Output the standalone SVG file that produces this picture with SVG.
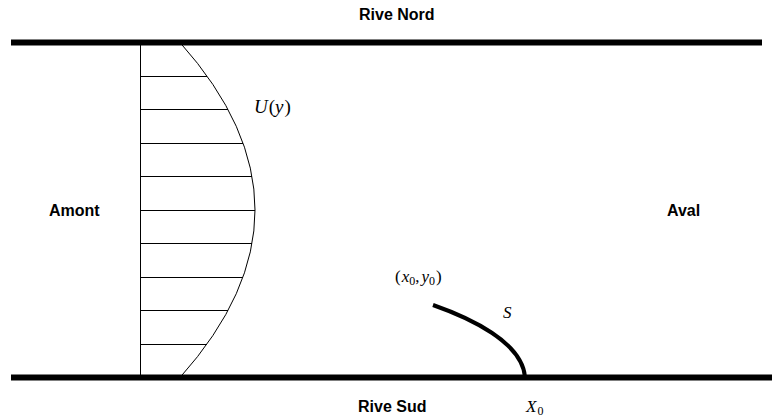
<svg xmlns="http://www.w3.org/2000/svg" width="773" height="417" viewBox="0 0 773 417">
<style>
.bank{stroke:#000;stroke-width:6;fill:none}
.thin{stroke:#000;stroke-width:1;fill:none}
.lbl{font-family:"Liberation Sans",Arial,sans-serif;font-weight:bold;font-size:16px;fill:#000}
.math{font-family:"Liberation Serif","Times New Roman",serif;fill:#000}
.it{font-style:italic}
</style>
<rect width="773" height="417" fill="#fff"/>
<g id="rive-nord">
<line class="bank" x1="11" y1="42.5" x2="762" y2="42.5"/>
<text class="lbl" x="359" y="20">Rive Nord</text>
</g>
<g id="rive-sud">
<line class="bank" x1="11" y1="377.5" x2="772" y2="377.5"/>
<text class="lbl" x="358" y="412">Rive Sud</text>
</g>
<g id="amont"><text class="lbl" x="49" y="216">Amont</text></g>
<g id="aval"><text class="lbl" x="667" y="216">Aval</text></g>
<g id="profil">
<line class="thin" x1="140.5" y1="42.5" x2="140.5" y2="377"/>
<path class="thin" d="M180,42.5 Q330,210 180,377.5"/>
<line class="thin" x1="140" y1="76.5" x2="207" y2="76.5"/>
<line class="thin" x1="140" y1="109.5" x2="228" y2="109.5"/>
<line class="thin" x1="140" y1="143.5" x2="243" y2="143.5"/>
<line class="thin" x1="140" y1="176.5" x2="252" y2="176.5"/>
<line class="thin" x1="140" y1="210.5" x2="255" y2="210.5"/>
<line class="thin" x1="140" y1="243.5" x2="252" y2="243.5"/>
<line class="thin" x1="140" y1="277.5" x2="243" y2="277.5"/>
<line class="thin" x1="140" y1="310.5" x2="228" y2="310.5"/>
<line class="thin" x1="140" y1="344.5" x2="207" y2="344.5"/>
<text class="math" x="254" y="113" font-size="19"><tspan class="it">U</tspan><tspan dx="1">(</tspan><tspan class="it">y</tspan><tspan dx="1">)</tspan></text>
</g>
<g id="connectors">
<path d="M433,305 C470,318 522,342 525,377" stroke="#000" stroke-width="4" fill="none"/>
</g>
<g id="labels-s">
<text class="math" x="395" y="282" font-size="17">(<tspan class="it" dx="1">x</tspan><tspan font-size="12" dy="3">0</tspan><tspan dy="-3">,</tspan><tspan class="it" dx="2">y</tspan><tspan font-size="12" dy="3">0</tspan><tspan dy="-3" dx="1">)</tspan></text>
<text class="math it" x="503" y="318" font-size="17">S</text>
<text class="math" x="526" y="412" font-size="17"><tspan class="it">X</tspan><tspan font-size="12" dy="3" dx="1">0</tspan></text>
</g>
</svg>
